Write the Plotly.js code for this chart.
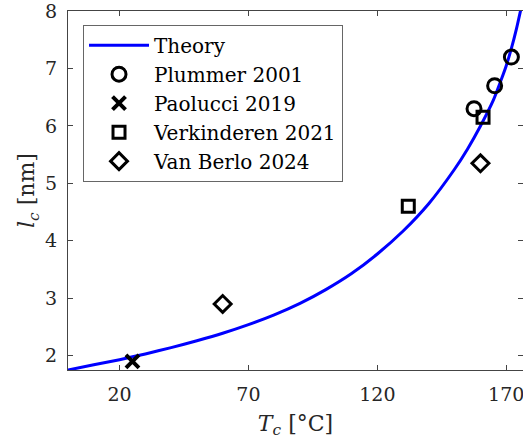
<!DOCTYPE html>
<html>
<head>
<meta charset="utf-8">
<script src="https://cdn.plot.ly/plotly-3.0.1.min.js"></script>
<style>html,body{margin:0;padding:0;background:#fff;}#chart{width:523px;height:446px;}</style>
</head>
<body>
<div id="chart"></div>
<script>
// Theory curve
const theoryT = [0, 10, 20, 30, 40, 50, 60, 70, 80, 90, 100, 110, 120, 130, 140, 150, 155, 160, 165, 168, 170, 172, 174, 176];
const theoryL = [1.75, 1.84, 1.93, 2.03, 2.14, 2.26, 2.39, 2.54, 2.71, 2.91, 3.15, 3.43, 3.77, 4.17, 4.65, 5.25, 5.6, 6.0, 6.45, 6.8, 7.05, 7.35, 7.7, 8.1];
// Experimental data
const plummerT = [157.5, 165.5, 172];
const plummerL = [6.3, 6.7, 7.2];
const paolucciT = [25];
const paolucciL = [1.9];
const verkinderenT = [132, 161];
const verkinderenL = [4.6, 6.15];
const vanBerloT = [60, 160];
const vanBerloL = [2.9, 5.35];
const xTicks = [20, 70, 120, 170];
const yTicks = [2, 3, 4, 5, 6, 7, 8];

const FONT = 'DejaVu Serif';
const mk = (sym, size, w) => ({symbol: sym, size: size, color: '#000', line: {color: '#000', width: w}});

const traces = [
  {x: theoryT, y: theoryL, mode: 'lines', name: 'Theory', line: {color: '#0000ff', width: 3, shape: 'spline', smoothing: 0.6}},
  {x: plummerT, y: plummerL, mode: 'markers', name: 'Plummer 2001', marker: mk('circle-open', 14, 3)},
  {x: paolucciT, y: paolucciL, mode: 'markers', name: 'Paolucci 2019', marker: mk('x-thin-open', 13, 4)},
  {x: verkinderenT, y: verkinderenL, mode: 'markers', name: 'Verkinderen 2021', marker: mk('square-open', 12, 3)},
  {x: vanBerloT, y: vanBerloL, mode: 'markers', name: 'Van Berlo 2024', marker: mk('diamond-open', 13, 3)}
];

const axisCommon = {
  showgrid: false, zeroline: false, showline: true, linecolor: '#444', linewidth: 1,
  mirror: 'ticks', ticks: 'inside', ticklen: 5, tickcolor: '#444', tickwidth: 1,
  ticklabeloverflow: 'allow',
  tickfont: {family: FONT, size: 19, color: '#262626'}
};

const layout = {
  width: 523, height: 446,
  margin: {l: 68, r: 0, t: 11, b: 76},
  paper_bgcolor: '#fff', plot_bgcolor: '#fff',
  font: {family: FONT},
  showlegend: true,
  xaxis: Object.assign({}, axisCommon, {
    range: [0, 176.5], tickvals: xTicks, ticktext: xTicks.map(String), ticklabelstandoff: 7,
    title: {text: '<i>T</i><sub><i>c</i></sub> [°C]', font: {family: FONT, size: 22, color: '#262626'}, standoff: 11}
  }),
  yaxis: Object.assign({}, axisCommon, {
    range: [1.75, 8.002], tickvals: yTicks, ticktext: yTicks.map(String), ticklabelstandoff: 6,
    title: {text: '<i>l</i><sub><i>c</i></sub> [nm]', font: {family: FONT, size: 22, color: '#262626'}, standoff: 4}
  }),
  legend: {
    x: 0.033, y: 0.962, xanchor: 'left', yanchor: 'top',
    bgcolor: '#fff', bordercolor: '#666', borderwidth: 1,
    font: {family: FONT, size: 20, color: '#000'},
    itemwidth: 60, tracegroupgap: 0
  }
};

Plotly.newPlot('chart', traces, layout, {staticPlot: true, displayModeBar: false});
</script>
</body>
</html>
